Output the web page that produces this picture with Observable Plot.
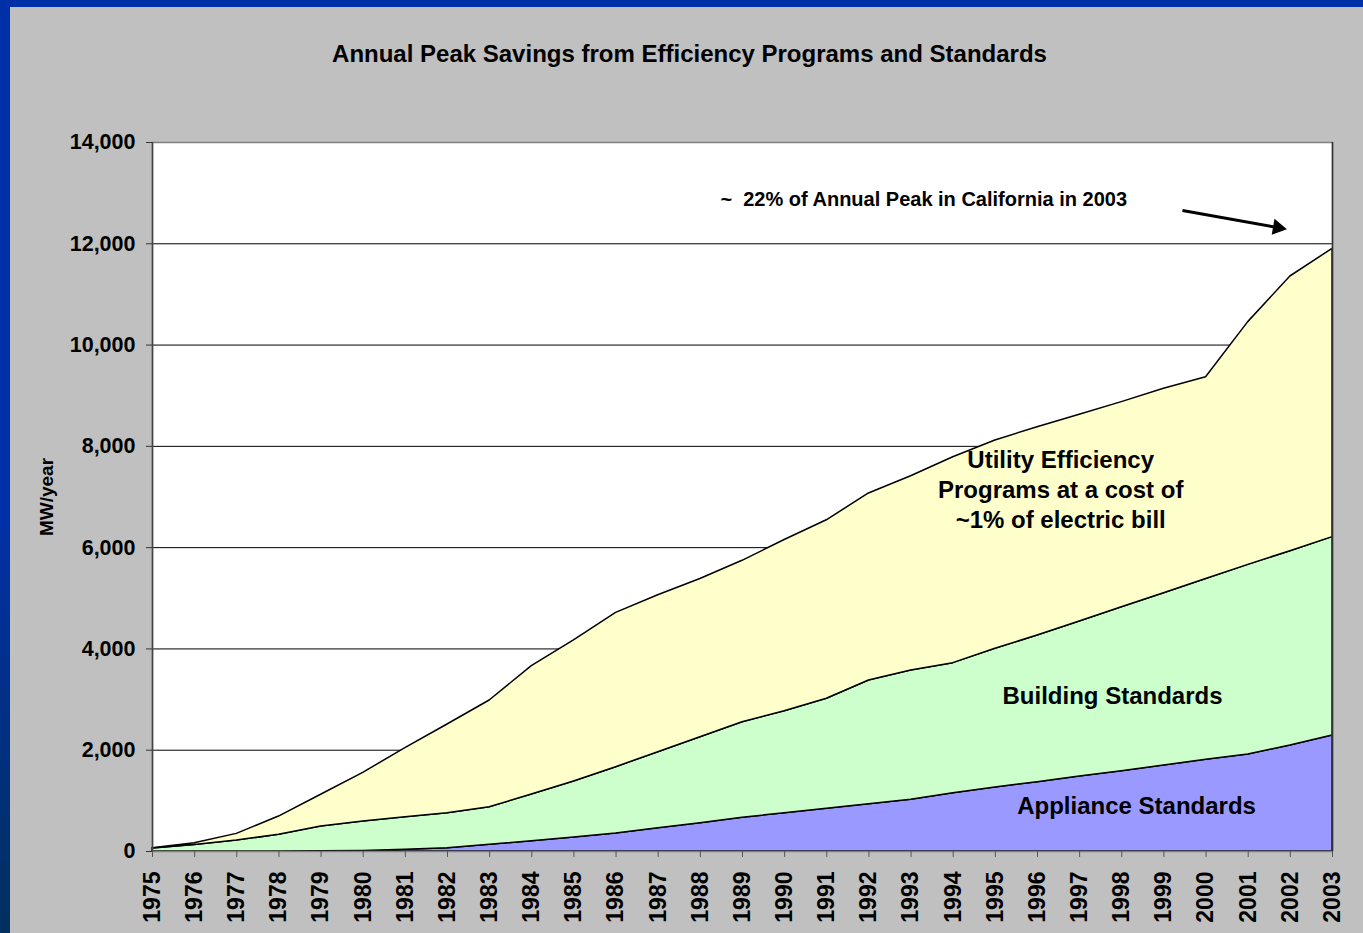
<!DOCTYPE html>
<html>
<head>
<meta charset="utf-8">
<script src="https://cdn.jsdelivr.net/npm/d3@7"></script>
<script src="https://cdn.jsdelivr.net/npm/@observablehq/plot@0.6"></script>
<style>
  html, body { margin: 0; padding: 0; }
  body {
    width: 1363px; height: 933px; overflow: hidden;
    background: linear-gradient(to bottom, #0030a8 0%, #0030a8 55%, #003060 100%);
    font-family: "Liberation Sans", Arial, sans-serif;
  }
  #panel {
    position: absolute; left: 10px; top: 7px; width: 1353px; height: 926px;
    background: #c0c0c0;
  }
  #title {
    position: absolute; left: 3px; top: 33px; width: 1353px; text-align: center;
    font-size: 24px; font-weight: bold; color: #000;
  }
  #chart { position: absolute; left: 0; top: 0; }
</style>
</head>
<body>
<div id="panel">
  <div id="chart"></div>
  <div id="title">Annual Peak Savings from Efficiency Programs and Standards</div>
</div>
<script>
const years = [1975,1976,1977,1978,1979,1980,1981,1982,1983,1984,1985,1986,1987,1988,1989,
               1990,1991,1992,1993,1994,1995,1996,1997,1998,1999,2000,2001,2002,2003];
// MW/year by source (stacked bottom to top)
const appliance = [0,0,0,0,5,10,33,66,131,204,276,355,461,560,665,
                   757,843,934,1020,1152,1264,1369,1481,1586,1698,1810,1915,2093,2291];
const building  = [60,130,217,329,489,582,645,691,744,921,1106,1310,1500,1697,1888,
                   2013,2172,2443,2554,2567,2739,2896,3060,3238,3402,3570,3745,3837,3916];
const utility   = [5,34,131,361,626,962,1362,1751,2107,2535,2785,3048,3099,3123,3187,
                   3380,3525,3693,3836,4067,4113,4114,4082,4049,4037,3986,4793,5424,5693];
const seriesNames = ["Appliance Standards", "Building Standards", "Utility Efficiency Programs"];
const seriesColors = ["#9999ff", "#ccffcc", "#ffffcc"];
const yTicks = [0,2000,4000,6000,8000,10000,12000,14000];

// annotation labels (data coordinates)
const labelTexts = ["Utility Efficiency\nPrograms at a cost of\n~1% of electric bill",
                    "Building Standards", "Appliance Standards",
                    "~  22% of Annual Peak in California in 2003"];
const labelX = [1996.55, 1997.78, 1998.35, 1993.3];
const labelY = [7170, 3100, 928, 12875];
const arrowFrom = [1999.44, 12658];
const arrowHead = [2001.70, 12320];

const data = years.flatMap((yr, i) => [
  {year: yr, series: seriesNames[0], value: appliance[i]},
  {year: yr, series: seriesNames[1], value: building[i]},
  {year: yr, series: seriesNames[2], value: utility[i]}
]);
const labels = labelTexts.map((t, i) => ({text: t, x: labelX[i], y: labelY[i]}));

const chart = Plot.plot({
  width: 1353,
  height: 926,
  marginLeft: 142,
  marginRight: 31,
  marginTop: 135,
  marginBottom: 82,
  style: {background: "transparent", fontFamily: "'Liberation Sans', Arial, sans-serif", color: "#000", overflow: "visible"},
  x: {domain: [1975, 2003]},
  y: {domain: [0, 14000]},
  color: {domain: seriesNames, range: seriesColors},
  marks: [
    Plot.frame({fill: "white", stroke: "none"}),
    Plot.ruleY(yTicks.filter(d => d > 0 && d < 14000), {stroke: "#000", strokeWidth: 1}),
    Plot.areaY(data, {x: "year", y: "value", fill: "series", order: seriesNames,
                      stroke: "#000", strokeWidth: 1.5, strokeLinejoin: "round"}),
    Plot.frame({stroke: "#808080", strokeWidth: 1.5}),
    Plot.ruleX([2003], {stroke: "#333", strokeWidth: 1.5}),
    Plot.ruleX([1975], {stroke: "#444", strokeWidth: 1.5}),
    Plot.axisY({ticks: yTicks, tickFormat: d3.format(","), tickSize: 6, tickPadding: 11,
                fontSize: 21.5, fontWeight: "bold", stroke: "#333", label: null}),
    Plot.axisX({ticks: years, tickFormat: d => String(d), tickRotate: -90, tickSize: 6, tickPadding: 14,
                fontSize: 23, fontWeight: "bold", stroke: "#555", label: null}),
    Plot.text(["MW/year"], {frameAnchor: "left", textAnchor: "middle", rotate: -90, dx: -106,
                            fontSize: 19, fontWeight: "bold", fill: "#000"}),
    Plot.text(labels.slice(0, 3), {x: "x", y: "y", text: "text", fontSize: 24, fontWeight: "bold",
                                   lineHeight: 1.25, fill: "#000"}),
    Plot.text(labels.slice(3), {x: "x", y: "y", text: "text", fontSize: 20, fontWeight: "bold", fill: "#000"}),
    Plot.link([{x1: arrowFrom[0], y1: arrowFrom[1], x2: arrowHead[0], y2: arrowHead[1]}],
              {x1: "x1", y1: "y1", x2: "x2", y2: "y2", stroke: "#000", strokeWidth: 3}),
    Plot.dot([{x: arrowHead[0], y: arrowHead[1]}], {x: "x", y: "y", symbol: "triangle", r: 6,
              rotate: 100, fill: "#000", stroke: "none"})
  ]
});
document.getElementById("chart").appendChild(chart);
</script>
</body>
</html>
